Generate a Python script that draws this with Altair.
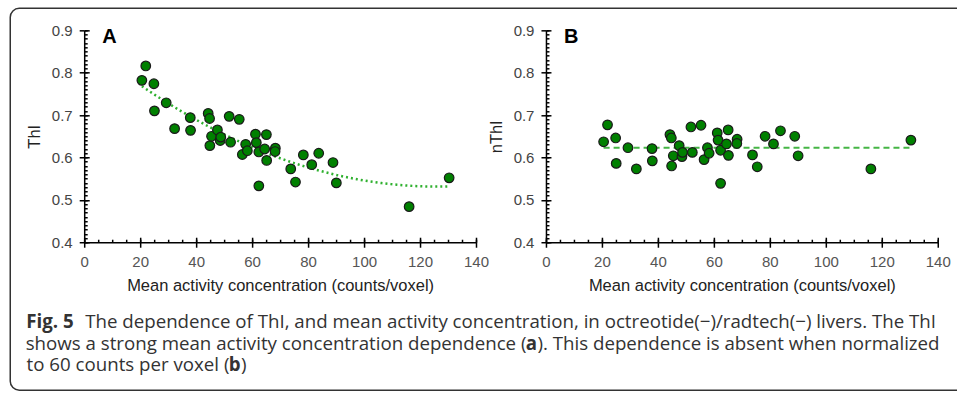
import altair as alt
import pandas as pd

# ---- data ----
activity = [20.6, 22.0, 24.9, 25.1, 29.3, 32.3, 37.9, 38.0, 44.3, 44.8,
            44.9, 45.5, 47.6, 48.6, 48.8, 51.8, 52.3, 55.4, 56.5, 57.7,
            58.3, 61.2, 61.5, 62.4, 62.4, 64.5, 65.1, 65.2, 68.3, 68.2,
            73.8, 75.5, 78.3, 81.3, 83.8, 88.9, 90.1, 116.1, 130.4]
thi = [0.782, 0.816, 0.774, 0.710, 0.729, 0.668, 0.694, 0.664, 0.704, 0.692,
       0.628, 0.650, 0.665, 0.640, 0.648, 0.697, 0.636, 0.690, 0.607, 0.631,
       0.616, 0.655, 0.635, 0.613, 0.533, 0.620, 0.654, 0.593, 0.622, 0.614,
       0.573, 0.542, 0.606, 0.583, 0.610, 0.588, 0.540, 0.484, 0.552]
nthi = [0.637, 0.677, 0.646, 0.586, 0.623, 0.573, 0.621, 0.592, 0.654, 0.646,
        0.580, 0.604, 0.628, 0.602, 0.612, 0.672, 0.612, 0.676, 0.595, 0.623,
        0.610, 0.658, 0.641, 0.617, 0.539, 0.632, 0.665, 0.605, 0.643, 0.633,
        0.606, 0.578, 0.650, 0.632, 0.663, 0.650, 0.604, 0.573, 0.641]

x_major = [0, 20, 40, 60, 80, 100, 120, 140]
x_minor = [v * 5 for v in range(29)]
y_major = [0.4, 0.5, 0.6, 0.7, 0.8, 0.9]
y_minor = [round(0.4 + 0.01 * i, 2) for i in range(51)]
x_title = "Mean activity concentration (counts/voxel)"

caption_pieces = [
    # text, x, y, bold, align
    ("Fig. 5", -58, 298, True, "left"),
    ("The dependence of ThI, and mean activity concentration, in octreotide(\u2212)/radtech(\u2212) livers. The ThI", 1, 298, False, "left"),
    ("shows a strong mean activity concentration dependence (", 442.5, 319.5, False, "right"),
    ("a", 453, 319.5, True, "right"),
    ("). This dependence is absent when normalized", 453.5, 319.5, False, "left"),
    ("to 60 counts per voxel (", 145.3, 341, False, "right"),
    ("b", 156.5, 341, True, "right"),
    (")", 157, 341, False, "left"),
]

df = pd.DataFrame({"activity": activity, "thi": thi, "nthi": nthi})
one = pd.DataFrame({"k": [0]})

W, H = 392, 212
AX = "Liberation Sans"
xs = alt.Scale(domain=[0, 140], nice=False, zero=False)
ys = alt.Scale(domain=[0.4, 0.9], nice=False, zero=False)


def outer_x():
    return alt.Axis(values=x_major, tickSize=5, tickWidth=1.5, tickColor="black",
                    domainColor="black", domainWidth=1.5, grid=False,
                    labelFont=AX, labelFontSize=15, labelColor="#555", labelPadding=7,
                    labelFlush=False, labelOverlap=False,
                    title=x_title, titleFont=AX, titleFontSize=16.5, titleFontWeight="normal",
                    titleColor="#222", titlePadding=8)


def outer_y(title):
    return alt.Axis(values=y_major, format=".1f", tickSize=5, tickWidth=1.5, tickColor="black",
                    domainColor="black", domainWidth=1.5, grid=False,
                    labelFont=AX, labelFontSize=15, labelColor="#444", labelPadding=7,
                    labelFlush=False, labelOverlap=False,
                    title=title, titleFont=AX, titleFontSize=16.5, titleFontWeight="normal",
                    titleColor="#222", titlePadding=8.5)


def inner_x(values, size):
    return alt.Axis(orient="top", offset=-H, values=values, tickSize=size, tickWidth=1.5,
                    tickColor="black", domain=False, labels=False, grid=False, title=None)


def inner_y(values, size):
    return alt.Axis(orient="right", offset=-W, values=values, tickSize=size, tickWidth=1.5,
                    tickColor="black", domain=False, labels=False, grid=False, title=None)


def panel(ycol, ytitle, letter, kind, with_caption):
    base = alt.Chart(df)
    if kind == "poly":
        fit = base.transform_regression("activity", ycol, method="poly", order=2).mark_line(
            color="#2fb02f", strokeWidth=2.5, strokeDash=[2, 3]
        ).encode(
            x=alt.X("activity:Q", scale=xs, axis=inner_x(x_major, 5)),
            y=alt.Y(f"{ycol}:Q", scale=ys, axis=inner_y(y_major, 5)),
        )
    else:
        fit = base.transform_aggregate(
            m=f"mean({ycol})", x0="min(activity)", x1="max(activity)"
        ).mark_rule(color="#45b545", strokeWidth=2, strokeDash=[6, 4]).encode(
            x=alt.X("x0:Q", scale=xs, axis=inner_x(x_major, 5)),
            x2="x1:Q",
            y=alt.Y("m:Q", scale=ys, axis=inner_y(y_major, 5)),
        )
    minor = base.mark_point(opacity=0).encode(
        x=alt.X("activity:Q", scale=xs, axis=inner_x(x_minor, 3)),
        y=alt.Y(f"{ycol}:Q", scale=ys, axis=inner_y(y_minor, 3)),
    )
    points = base.mark_circle(size=92, fill="#008000", fillOpacity=1, opacity=1,
                              stroke="#1a1a1a", strokeWidth=1.2).encode(
        x=alt.X("activity:Q", scale=xs, axis=outer_x()),
        y=alt.Y(f"{ycol}:Q", scale=ys, axis=outer_y(ytitle)),
    )
    lab = alt.Chart(one).mark_text(text=letter, font=AX, fontSize=20, fontWeight="bold",
                                   align="left", baseline="alphabetic", color="black").encode(
        x=alt.value(18), y=alt.value(13))
    layers = [minor, fit, points, lab]
    if with_caption:
        border = alt.Chart(one).mark_rect(filled=False, stroke="#333", strokeWidth=1.5,
                                          cornerRadius=9).encode(
            x=alt.value(-74), x2=alt.value(883), y=alt.value(-22), y2=alt.value(360))
        layers.append(border)
        for txt, px, py, bold, al in caption_pieces:
            layers.append(
                alt.Chart(one).mark_text(text=txt, font="Open Sans", fontSize=18.7,
                                         fontWeight="bold" if bold else "normal",
                                         align=al, baseline="alphabetic",
                                         color="#333").encode(
                    x=alt.value(px), y=alt.value(py)))
    return alt.layer(*layers).resolve_axis(x="independent", y="independent").properties(
        width=W, height=H)


A = panel("thi", "ThI", "A", "poly", True)
B = panel("nthi", "nThI", "B", "mean", False)

chart = alt.hconcat(A, B, spacing=70, bounds="flush").properties(
    padding={"left": 9.25, "top": 7.25, "right": -10.75, "bottom": 3.25},
    autosize=alt.AutoSizeParams(type="pad"),
).configure_view(strokeWidth=0)

chart.save("out.html", embed_options={"renderer": "svg", "actions": False})
